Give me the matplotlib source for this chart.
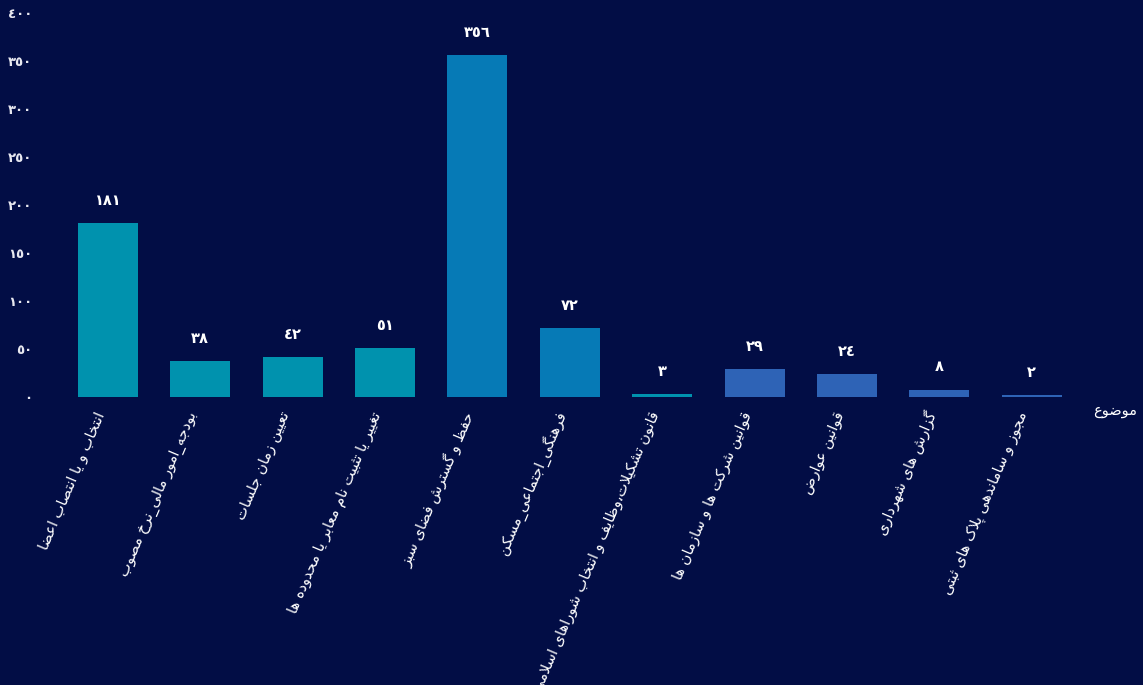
import matplotlib
matplotlib.use("Agg")
import matplotlib.pyplot as plt

# data
topics = [
    "انتخاب و یا انتصاب اعضا",
    "بودجه_امور مالی_نرخ مصوب",
    "تعیین زمان جلسات",
    "تغییر یا تثبیت نام معابر یا محدوده ها",
    "حفظ و گسترش فضای سبز",
    "فرهنگی_اجتماعی_مسکن",
    "قانون تشکیلات،وظایف و انتخاب شوراهای اسلامی",
    "قوانین شرکت ها و سازمان ها",
    "قوانین عوارض",
    "گزارش های شهرداری",
    "مجوز و ساماندهی پلاک های ثبتی",
]
counts = [181, 38, 42, 51, 356, 72, 3, 29, 24, 8, 2]
bar_colors = ["#0092AE", "#0092AE", "#0092AE", "#0092AE", "#067AB6", "#067AB6",
              "#0092AE", "#2E63B6", "#2E63B6", "#2E63B6", "#2E63B6"]
y_ticks = [0, 50, 100, 150, 200, 250, 300, 350, 400]
x_title = "موضوع"

BG = "#020D45"

# --- minimal arabic/persian shaping (matplotlib has no complex text layout) ---
# char: (isolated, final, initial, medial) ; 2-tuple = right-joining only
FORMS = {
    "ء": (0xFE80,),
    "آ": (0xFE81, 0xFE82), "أ": (0xFE83, 0xFE84), "ؤ": (0xFE85, 0xFE86),
    "إ": (0xFE87, 0xFE88), "ئ": (0xFE89, 0xFE8A, 0xFE8B, 0xFE8C),
    "ا": (0xFE8D, 0xFE8E), "ب": (0xFE8F, 0xFE90, 0xFE91, 0xFE92),
    "ة": (0xFE93, 0xFE94), "ت": (0xFE95, 0xFE96, 0xFE97, 0xFE98),
    "ث": (0xFE99, 0xFE9A, 0xFE9B, 0xFE9C), "ج": (0xFE9D, 0xFE9E, 0xFE9F, 0xFEA0),
    "ح": (0xFEA1, 0xFEA2, 0xFEA3, 0xFEA4), "خ": (0xFEA5, 0xFEA6, 0xFEA7, 0xFEA8),
    "د": (0xFEA9, 0xFEAA), "ذ": (0xFEAB, 0xFEAC), "ر": (0xFEAD, 0xFEAE),
    "ز": (0xFEAF, 0xFEB0), "س": (0xFEB1, 0xFEB2, 0xFEB3, 0xFEB4),
    "ش": (0xFEB5, 0xFEB6, 0xFEB7, 0xFEB8), "ص": (0xFEB9, 0xFEBA, 0xFEBB, 0xFEBC),
    "ض": (0xFEBD, 0xFEBE, 0xFEBF, 0xFEC0), "ط": (0xFEC1, 0xFEC2, 0xFEC3, 0xFEC4),
    "ظ": (0xFEC5, 0xFEC6, 0xFEC7, 0xFEC8), "ع": (0xFEC9, 0xFECA, 0xFECB, 0xFECC),
    "غ": (0xFECD, 0xFECE, 0xFECF, 0xFED0), "ف": (0xFED1, 0xFED2, 0xFED3, 0xFED4),
    "ق": (0xFED5, 0xFED6, 0xFED7, 0xFED8), "ك": (0xFED9, 0xFEDA, 0xFEDB, 0xFEDC),
    "ل": (0xFEDD, 0xFEDE, 0xFEDF, 0xFEE0), "م": (0xFEE1, 0xFEE2, 0xFEE3, 0xFEE4),
    "ن": (0xFEE5, 0xFEE6, 0xFEE7, 0xFEE8), "ه": (0xFEE9, 0xFEEA, 0xFEEB, 0xFEEC),
    "و": (0xFEED, 0xFEEE), "ى": (0xFEEF, 0xFEF0),
    "ي": (0xFEF1, 0xFEF2, 0xFEF3, 0xFEF4),
    "پ": (0xFB56, 0xFB57, 0xFB58, 0xFB59), "چ": (0xFB7A, 0xFB7B, 0xFB7C, 0xFB7D),
    "ژ": (0xFB8A, 0xFB8B), "ک": (0xFB8E, 0xFB8F, 0xFB90, 0xFB91),
    "گ": (0xFB92, 0xFB93, 0xFB94, 0xFB95), "ی": (0xFBFC, 0xFBFD, 0xFBFE, 0xFBFF),
}
LAM_ALEF = {"ا": (0xFEFB, 0xFEFC), "آ": (0xFEF5, 0xFEF6),
            "أ": (0xFEF7, 0xFEF8), "إ": (0xFEF9, 0xFEFA)}


def joins_next(ch):
    return ch in FORMS and len(FORMS[ch]) == 4


def shape(text):
    out = []
    i = 0
    n = len(text)
    while i < n:
        ch = text[i]
        prev = text[i - 1] if i > 0 else ""
        prev_j = joins_next(prev)
        if ch == "ل" and i + 1 < n and text[i + 1] in LAM_ALEF:
            f = LAM_ALEF[text[i + 1]]
            out.append(chr(f[1] if prev_j else f[0]))
            i += 2
            continue
        if ch not in FORMS:
            out.append(ch)
            i += 1
            continue
        f = FORMS[ch]
        nxt = text[i + 1] if i + 1 < n else ""
        next_j = nxt in FORMS
        if len(f) == 4:
            if prev_j and next_j:
                g = f[3]
            elif prev_j:
                g = f[1]
            elif next_j:
                g = f[2]
            else:
                g = f[0]
        elif len(f) == 2:
            g = f[1] if prev_j else f[0]
        else:
            g = f[0]
        out.append(chr(g))
        i += 1
    return "".join(out)[::-1]


def fa_num(v):
    return str(v).translate(str.maketrans("0123456789", "٠١٢٣٤٥٦٧٨٩"))


plt.rcParams["font.family"] = ["DejaVu Sans"]

fig = plt.figure(figsize=(11.43, 6.85), dpi=100, facecolor=BG)
ax = fig.add_axes([0.054, 0.420, 0.889, 0.561])
ax.set_facecolor(BG)

x = list(range(len(counts)))
bars = ax.bar(x, counts, width=0.65, color=bar_colors)

for b, v in zip(bars, counts):
    ax.annotate(fa_num(v), (b.get_x() + b.get_width() / 2, v),
                xytext=(0, 11), textcoords="offset points",
                ha="center", va="bottom", color="white",
                fontsize=10.5, fontweight="bold")

ax.set_xlim(-0.5, len(counts) - 0.5)
ax.set_ylim(0, 400)
ax.set_yticks(y_ticks)
ax.set_yticklabels([fa_num(t) for t in y_ticks], color="#E8E8F0",
                   fontsize=9.5, fontweight="bold")
ax.tick_params(axis="y", length=0, pad=21)

ax.set_xticks(x)
ax.set_xticklabels([shape(t) for t in topics], rotation=67, ha="right",
                   va="bottom", rotation_mode="anchor", color="white",
                   fontsize=10.5)
ax.tick_params(axis="x", length=0, pad=13)

for s in ax.spines.values():
    s.set_visible(False)

ax.text(1.058, -0.035, shape(x_title), transform=ax.transAxes,
        ha="right", va="center", color="white", fontsize=10.5)

fig.savefig("out.png", dpi=100, facecolor=BG)
